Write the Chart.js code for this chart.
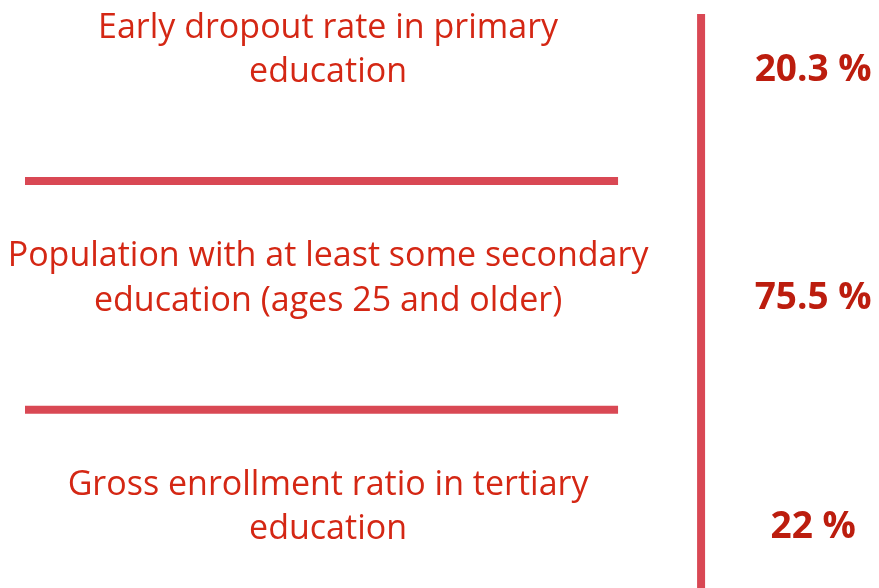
<!DOCTYPE html>
<html><head><meta charset="utf-8">
<script src="https://cdn.jsdelivr.net/npm/chart.js@4.4.0/dist/chart.umd.min.js"></script>
<style>html,body{margin:0;background:#fff}</style>
</head><body>
<canvas id="cv" width="879" height="588"></canvas>
<script>
/* Education indicators — three rows of label | value, split by red rules. */
const indicators = [
  ["Early dropout rate in primary", "education"],
  ["Population with at least some secondary", "education (ages 25 and older)"],
  ["Gross enrollment ratio in tertiary", "education"],
];
const values = [20.3, 75.5, 22];
const valueLabels = values.map(v => v + " %");

// layout: x in "label column" units (rule runs 0..1), y in row units (row i sits at y=i)
const LABEL_X = 0.511, DIVIDER_X = 1.14, VALUE_X = 1.329, X_MAX = 1.44;
const Y_MIN = -0.23, Y_MAX = 2.28;
const RULE = "#d94854", LABEL_INK = "#d42714", VALUE_INK = "#bc1d0e";

const rules = indicators.slice(1).map((_, i) => i + 0.5);
const datasets = rules.map(b => ({ data: [{ x: 0, y: b }, { x: 1, y: b }],
  borderColor: RULE, borderWidth: 8, pointRadius: 0, showLine: true }));
datasets.push({ data: [{ x: DIVIDER_X, y: Y_MIN }, { x: DIVIDER_X, y: Y_MAX }],
  borderColor: RULE, borderWidth: 8, pointRadius: 0, showLine: true });

const rowText = { id: "rowText", afterDatasetsDraw(chart) {
  const { ctx, scales: { x, y } } = chart;
  ctx.save(); ctx.textAlign = "center"; ctx.textBaseline = "alphabetic";
  indicators.forEach((lines, i) => {
    const py = y.getPixelForValue(i);
    ctx.font = "500 34px 'Open Sans'"; ctx.fillStyle = LABEL_INK;
    lines.forEach((t, k) => ctx.fillText(t, x.getPixelForValue(LABEL_X), py - 29 + k * 44.5));
    ctx.font = "bold 37px 'Open Sans'"; ctx.fillStyle = VALUE_INK;
    ctx.fillText(valueLabels[i], x.getPixelForValue(VALUE_X), py + 14);
  });
  ctx.restore();
} };

new Chart(document.getElementById("cv"), {
  type: "scatter",
  data: { datasets },
  options: {
    responsive: false, animation: false, events: [],
    layout: { padding: { left: 25, top: 14, right: 0, bottom: 0 } },
    plugins: { legend: { display: false }, tooltip: { enabled: false } },
    scales: {
      x: { type: "linear", min: 0, max: X_MAX, display: false },
      y: { type: "linear", min: Y_MIN, max: Y_MAX, reverse: true, display: false },
    },
  },
  plugins: [rowText],
});
</script>
</body></html>
